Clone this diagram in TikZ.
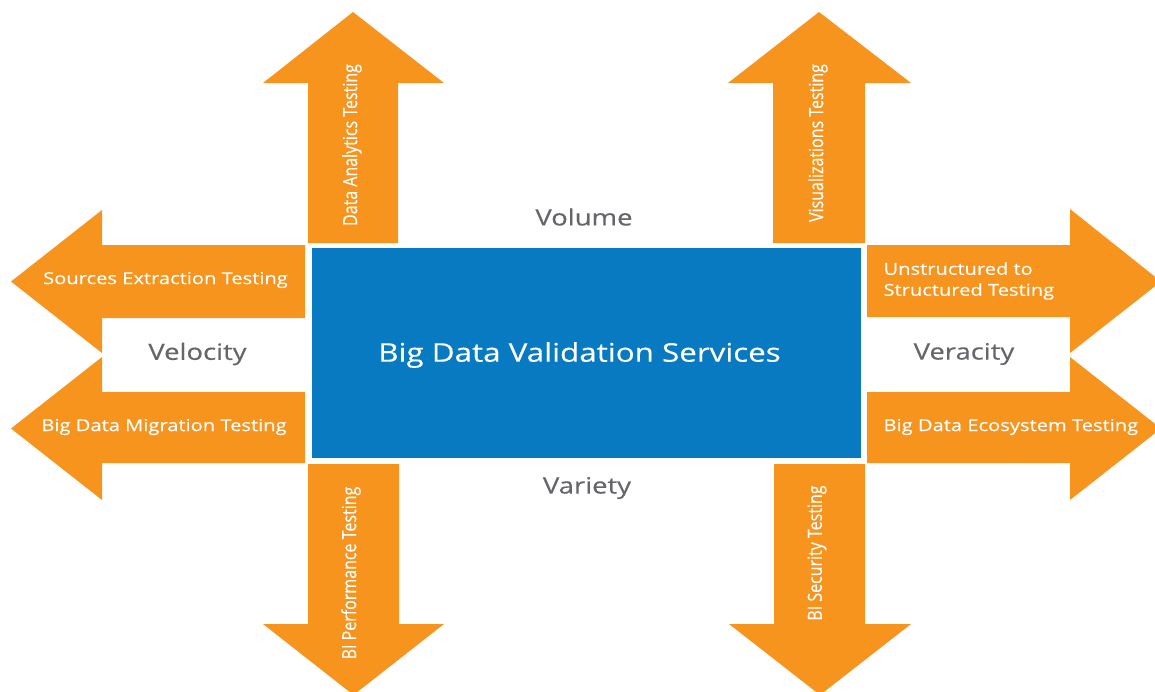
\documentclass[tikz,border=0pt]{standalone}
\usepackage{fontspec}
\setmainfont{Open Sans}
\newfontfamily\widefont[FakeStretch=1.22,FakeBold=0.3]{Open Sans}
\newfontfamily\condfont[FakeStretch=0.82,FakeBold=0.3]{Open Sans}
\definecolor{arroworange}{RGB}{247,148,30}
\definecolor{boxblue}{RGB}{8,122,193}
\definecolor{labelgray}{RGB}{100,102,106}
\tikzset{
  arrowfill/.style={fill=arroworange},
  sidetext/.style={text=white, font=\widefont\fontsize{16.5}{21}\selectfont},
  uptext/.style={text=white, rotate=90, font=\condfont\fontsize{19.5}{22}\selectfont},
  vlabel/.style={text=labelgray, font=\widefont\fontsize{22.5}{26}\selectfont}
}
\begin{document}
\begin{tikzpicture}[x=1pt,y=-1pt]
\clip (0,0) rectangle (1155,691);
%
% up arrows
\fill[arrowfill] (308,243) -- (308,83) -- (263,83) -- (353,12) -- (444,83) -- (398,83) -- (398,243) -- cycle;
\fill[arrowfill] (773,243) -- (773,83) -- (728,83) -- (819,12) -- (911,83) -- (865,83) -- (865,243) -- cycle;
% down arrows
\fill[arrowfill] (308,464) -- (308,624) -- (263,624) -- (353.5,695) -- (444,624) -- (399,624) -- (399,464) -- cycle;
\fill[arrowfill] (774,464) -- (774,624) -- (729,624) -- (820,695) -- (911,624) -- (865,624) -- (865,464) -- cycle;
% left arrows
\fill[arrowfill] (305,245) -- (102,245) -- (102,210) -- (11,281.5) -- (102,353) -- (102,318) -- (305,318) -- cycle;
\fill[arrowfill] (305,392) -- (102,392) -- (102,357) -- (11,428.5) -- (102,500) -- (102,463) -- (305,463) -- cycle;
% right arrows
\fill[arrowfill] (867,245) -- (1070,245) -- (1070,209) -- (1161,281.5) -- (1070,353) -- (1070,317) -- (867,317) -- cycle;
\fill[arrowfill] (867,392) -- (1070,392) -- (1070,357) -- (1161,428.5) -- (1070,500) -- (1070,463) -- (867,463) -- cycle;
%
\node[fill=boxblue, minimum width=549pt, minimum height=210pt, inner sep=0pt] (core) at (586.5,353) {};
\node[text=white, font=\widefont\fontsize{25.7}{30}\selectfont] (title) at (579.5,355) {Big Data Validation Services};
%
\node[vlabel] (volume) at (584,217) {Volume};
\node[vlabel] (variety) at (587,488) {Variety};
\node[vlabel] (velocity) at (197.5,354) {Velocity};
\node[vlabel] (veracity) at (964,354) {Veracity};
%
\node[sidetext] (extract) at (165.5,280) {Sources Extraction Testing};
\node[sidetext] (migrate) at (164,427) {Big Data Migration Testing};
\node[sidetext, anchor=west, align=left] (unstruct) at (880,281) {Unstructured to\\Structured Testing};
\node[sidetext, anchor=west] (ecosys) at (880,427) {Big Data Ecosystem Testing};
%
\node[uptext] (analytics) at (352,145) {Data Analytics Testing};
\node[uptext] (visual) at (818,143) {Visualizations Testing};
\node[uptext] (perform) at (351,573) {BI Performance Testing};
\node[uptext] (security) at (817,553) {BI Security Testing};
%
\end{tikzpicture}
\end{document}
